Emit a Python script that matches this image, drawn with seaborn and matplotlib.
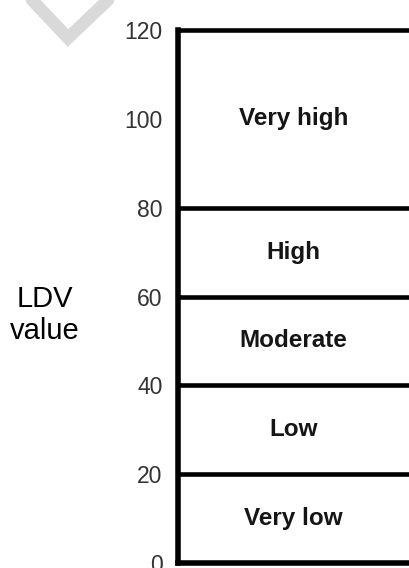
import matplotlib
matplotlib.use("Agg")
import matplotlib.pyplot as plt
import seaborn as sns
import pandas as pd
from matplotlib.lines import Line2D

# Klasy wartosci LDV
boundaries = [20, 40, 60, 80, 120]
class_labels = ["Very low", "Low", "Moderate", "High", "Very high"]
class_centers = [10, 30, 50, 70, 100]
y_ticks = [0, 20, 40, 60, 80, 100, 120]

df = pd.DataFrame({"label": class_labels, "center": class_centers})

sns.set_style("white")
plt.rcParams["font.family"] = ["Liberation Sans", "DejaVu Sans"]

fig = plt.figure(figsize=(4.09, 5.68), dpi=100)
ax = fig.add_axes([178 / 409, 5 / 568, 1 - 178 / 409, 533 / 568])

# Linie granic klas
ax.hlines(boundaries, 0, 1, colors="black", linewidth=3.3, clip_on=False)
for _, row in df.iterrows():
    ax.text(0.5, row["center"], row["label"], ha="center", va="center",
            fontsize=17.5, fontweight="bold", color="#151515")

ax.set_xlim(0, 1)
ax.set_ylim(0, 120)
ax.set_yticks(y_ticks)
ax.set_xticks([])
ax.tick_params(axis="y", length=0, pad=11, labelsize=16.5, labelcolor="#333333")
sns.despine(ax=ax, top=True, right=True)
for side in ["left", "bottom"]:
    ax.spines[side].set_linewidth(4)
    ax.spines[side].set_color("black")
    ax.spines[side].set_capstyle("projecting")

fig.text(45 / 409, 1 - 315 / 568, "LDV\nvalue", ha="center", va="center",
         fontsize=21, color="black", linespacing=1.2)

# Znak wodny (szary szewron)
fig.add_artist(Line2D([32 / 409, 68 / 409, 108 / 409],
                      [1.0, 1 - 38 / 568, 1.0],
                      transform=fig.transFigure, color="#d9d9d9",
                      linewidth=9, solid_joinstyle="miter"))

fig.savefig("out.png", dpi=100)
